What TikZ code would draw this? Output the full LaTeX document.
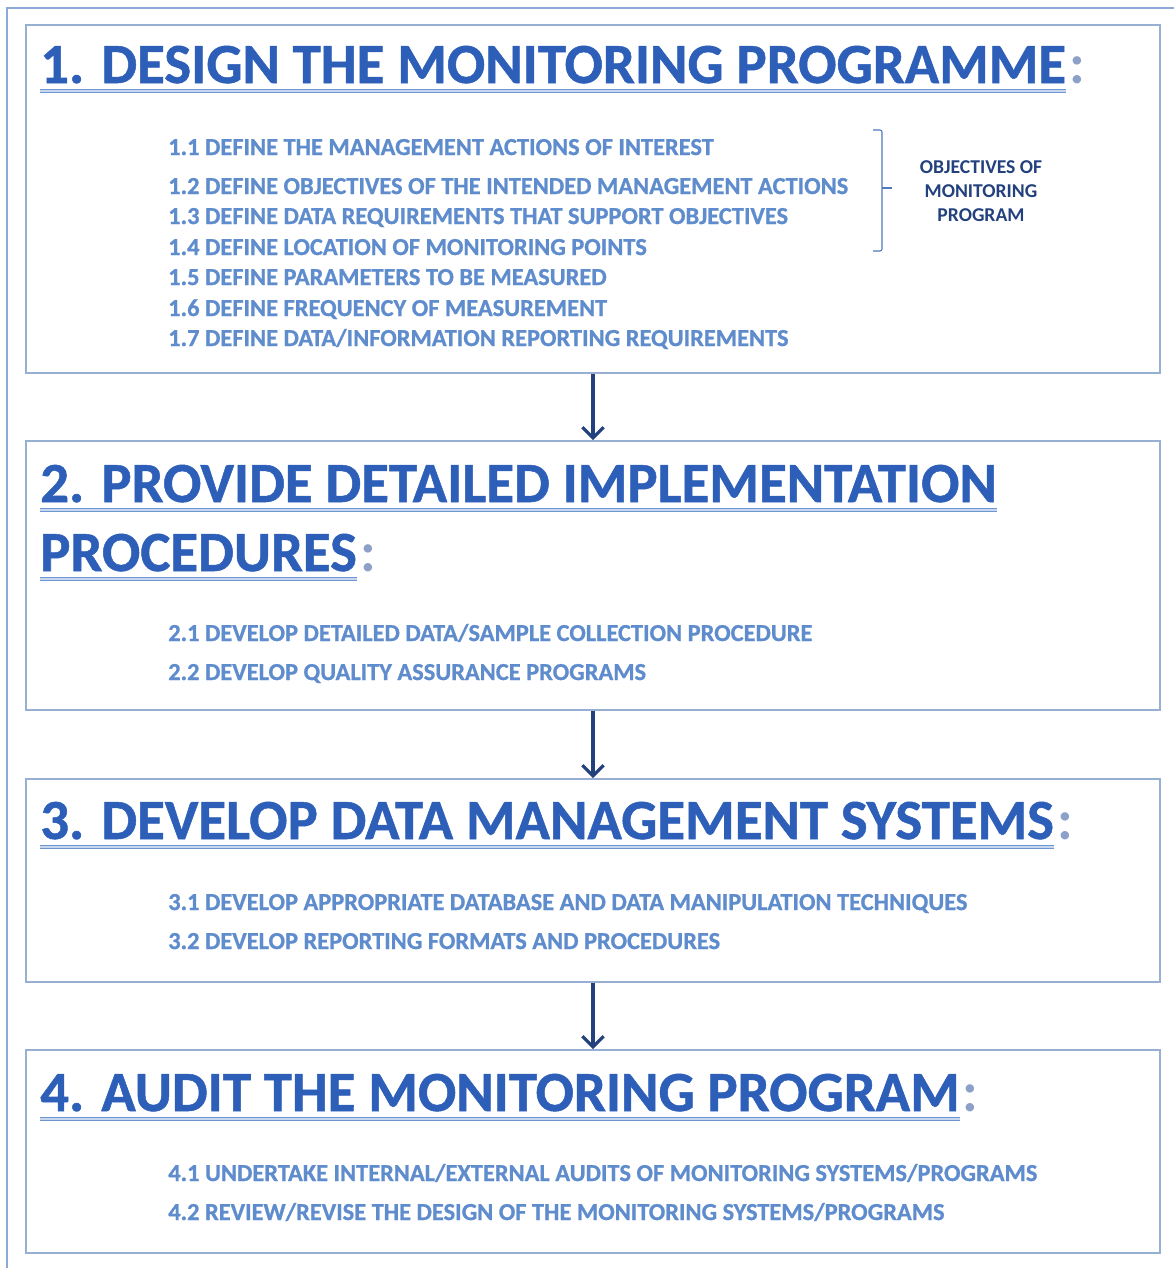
\documentclass[tikz,border=0pt]{standalone}
\usepackage{fontspec}
\setmainfont{Carlito}
\newfontfamily\heavy{Carlito}[BoldFeatures={FakeBold=0.9}]
\usetikzlibrary{arrows.meta}

\definecolor{boxline}{RGB}{150,175,210}
\definecolor{frameline}{RGB}{140,170,215}
\definecolor{headblue}{RGB}{45,95,185}
\definecolor{itemblue}{RGB}{95,140,205}
\definecolor{navy}{RGB}{35,65,125}
\definecolor{ulblue}{RGB}{110,150,210}
\definecolor{ullight}{RGB}{200,215,240}
\definecolor{colongrey}{RGB}{140,160,200}
\definecolor{bracecol}{RGB}{80,120,190}

\begin{document}
\begin{tikzpicture}[x=0.75pt,y=-0.75pt,
  box/.style={draw=boxline, line width=1.2pt, minimum width=850.5pt, inner sep=0},
  head/.style={anchor=base west, inner sep=0, text depth=0pt, text=headblue,
    font=\heavy\bfseries\fontsize{42.6}{50}\selectfont},
  colon/.style={anchor=base west, inner sep=0, xshift=2pt, text=colongrey,
    font=\bfseries\fontsize{42.6}{50}\selectfont},
  item/.style={anchor=base west, inner sep=0, text=itemblue,
    font=\heavy\bfseries\fontsize{18.3}{20}\selectfont},
  uline/.style={draw=ulblue, double=ullight, double distance=1.5pt, line width=0.9pt},
  flow/.style={draw=navy, line width=2.4pt, -{Straight Barb[length=8pt,width=16pt]}}]
\useasboundingbox (0,0) rectangle (1174,1268);

% outer frame
\draw[frameline, line width=1.5pt] (7,1268) -- (7,8) -- (1174,8);

% boxes
\node[box, minimum height=261pt] (b1) at (593,199) {};
\node[box, minimum height=201.75pt] (b2) at (593,575.5) {};
\node[box, minimum height=152.25pt] (b3) at (593,880.5) {};
\node[box, minimum height=152.25pt] (b4) at (593,1151.5) {};

\path[flow] (b1) -- (b2);
\path[flow] (b2) -- (b3);
\path[flow] (b3) -- (b4);

% step 1
\node[head] (t1) at (40,83) {1. DESIGN THE MONITORING PROGRAMME};
\node[colon] (c1) at (t1.base east) {:};
\path[uline] ([yshift=-6pt]t1.base west) -- ([yshift=-6pt]t1.base east);

\node[item] (i11) at (168,155) {1.1 DEFINE THE MANAGEMENT ACTIONS OF INTEREST};
\node[item] (i12) at (168,194) {1.2 DEFINE OBJECTIVES OF THE INTENDED MANAGEMENT ACTIONS};
\node[item] (i13) at (168,224) {1.3 DEFINE DATA REQUIREMENTS THAT SUPPORT OBJECTIVES};
\node[item] (i14) at (168,255) {1.4 DEFINE LOCATION OF MONITORING POINTS};
\node[item] (i15) at (168,285) {1.5 DEFINE PARAMETERS TO BE MEASURED};
\node[item] (i16) at (168,316) {1.6 DEFINE FREQUENCY OF MEASUREMENT};
\node[item] (i17) at (168,346) {1.7 DEFINE DATA/INFORMATION REPORTING REQUIREMENTS};

% bracket
\draw[bracecol, line width=0.8pt, rounded corners=1.5pt]
  (873,130) -- (882,130) -- (882,251) -- (873,251);
\draw[bracecol, line width=0.8pt] (882,188) -- (892,188);
\node[align=center, text=navy, font=\bfseries\fontsize{14.7}{18}\selectfont] (ob) at (981,191)
  {OBJECTIVES OF\\MONITORING\\PROGRAM};

% step 2
\node[head] (t2a) at (40,502) {2. PROVIDE DETAILED IMPLEMENTATION};
\path[uline] ([yshift=-6pt]t2a.base west) -- ([yshift=-6pt]t2a.base east);
\node[head] (t2b) at (40,571) {PROCEDURES};
\node[colon] (c2) at (t2b.base east) {:};
\path[uline] ([yshift=-6pt]t2b.base west) -- ([yshift=-6pt]t2b.base east);

\node[item] (i21) at (168,641) {2.1 DEVELOP DETAILED DATA/SAMPLE COLLECTION PROCEDURE};
\node[item] (i22) at (168,680) {2.2 DEVELOP QUALITY ASSURANCE PROGRAMS};

% step 3
\node[head] (t3) at (40,839) {3. DEVELOP DATA MANAGEMENT SYSTEMS};
\node[colon] (c3) at (t3.base east) {:};
\path[uline] ([yshift=-6pt]t3.base west) -- ([yshift=-6pt]t3.base east);

\node[item] (i31) at (168,910) {3.1 DEVELOP APPROPRIATE DATABASE AND DATA MANIPULATION TECHNIQUES};
\node[item] (i32) at (168,949) {3.2 DEVELOP REPORTING FORMATS AND PROCEDURES};

% step 4
\node[head] (t4) at (40,1111) {4. AUDIT THE MONITORING PROGRAM};
\node[colon] (c4) at (t4.base east) {:};
\path[uline] ([yshift=-6pt]t4.base west) -- ([yshift=-6pt]t4.base east);

\node[item] (i41) at (168,1181) {4.1 UNDERTAKE INTERNAL/EXTERNAL AUDITS OF MONITORING SYSTEMS/PROGRAMS};
\node[item] (i42) at (168,1220) {4.2 REVIEW/REVISE THE DESIGN OF THE MONITORING SYSTEMS/PROGRAMS};
\end{tikzpicture}
\end{document}
